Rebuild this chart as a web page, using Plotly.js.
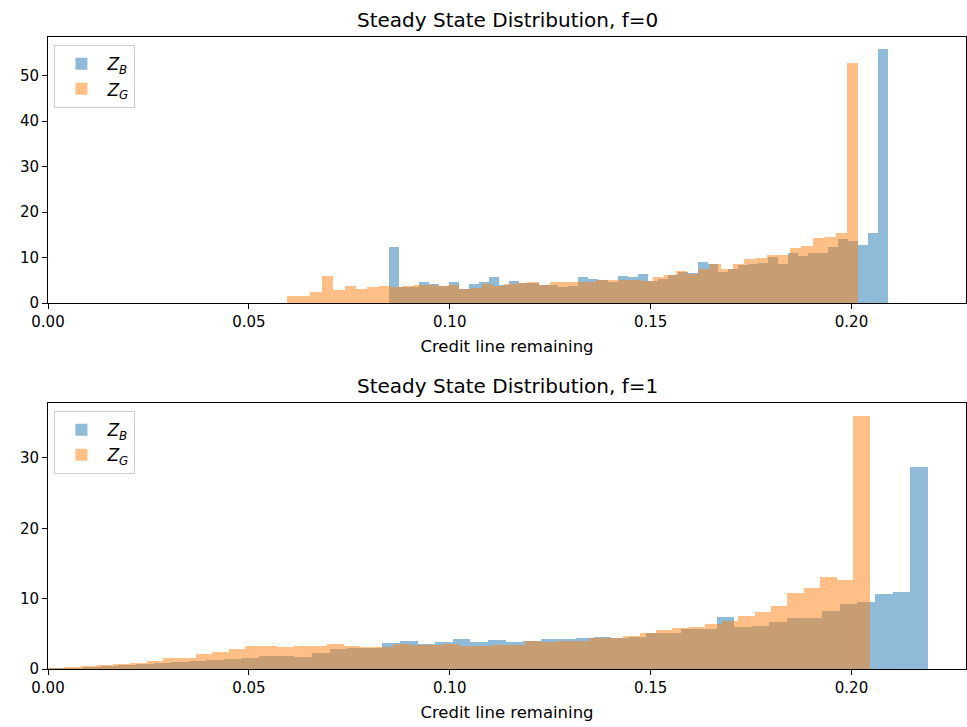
<!DOCTYPE html>
<html>
<head>
<meta charset="utf-8">
<script src="https://cdn.plot.ly/plotly-3.0.1.min.js"></script>
<style>html,body{margin:0;padding:0;background:#fff;}#chart{width:967px;height:727px;}</style>
</head>
<body>
<div id="chart"></div>
<script>
// ---- Data: histogram bin ranges (50 bins each) and bin heights ----
const nBins = 50;
// f = 0
const topB_range = [0.0848, 0.2091];
const topG_range = [0.0596, 0.2017];
const topB = [12.3,3.5,3.6,4.55,4.1,3.75,4.55,3.15,4.26,4.55,5.65,3.9,4.77,4.4,4.3,4.0,3.9,3.6,3.75,5.65,
              5.36,5.0,4.7,6.0,5.65,6.3,4.85,5.3,6.1,6.9,6.5,8.96,8.5,6.83,7.56,8.3,8.5,8.8,10.1,8.66,
              10.9,10.3,10.9,10.9,12.3,14.0,13.7,12.85,15.3,55.8];
const topG = [1.47,1.47,2.35,5.87,2.94,3.74,3.16,3.45,3.74,3.45,3.67,4.04,3.9,3.67,3.96,3.16,3.2,4.26,3.82,4.1,
              4.4,4.55,3.9,4.55,4.6,4.55,4.7,5.14,5.0,5.14,5.0,4.85,5.65,6.24,7.05,6.3,7.56,8.66,7.56,8.66,
              9.76,10.0,10.6,10.6,12.2,12.6,14.2,14.5,15.5,52.7];
// f = 1
const botB_range = [0.0, 0.2190];
const botG_range = [0.0, 0.2045];
const botB = [0.1,0.2,0.3,0.45,0.6,0.75,0.9,1.05,1.2,1.35,1.45,1.55,1.9,1.9,1.7,2.25,2.8,3.0,3.05,3.65,
              4.0,3.5,3.85,4.2,3.84,4.08,3.84,3.98,4.27,4.27,4.36,4.55,4.35,4.6,5.07,5.07,5.64,5.64,7.4,6.0,
              6.16,6.73,7.2,7.2,8.3,9.2,9.57,10.6,10.95,28.7];
const botG = [0.15,0.3,0.45,0.5,0.7,0.85,1.2,1.55,1.55,2.1,2.4,2.8,3.3,3.3,3.1,3.3,3.3,3.5,3.3,3.1,
              3.1,3.5,3.35,3.4,3.5,3.2,3.2,3.37,3.37,3.98,3.9,3.98,4.03,4.36,4.36,4.74,5.07,5.5,5.83,5.97,
              6.35,6.8,7.54,8.15,9.0,10.8,11.5,13.1,12.6,36.0];

const titles = ['Steady State Distribution, f=0', 'Steady State Distribution, f=1'];
const xLabel = 'Credit line remaining';
const nameB = '<i>Z<sub>B</sub></i>';
const nameG = '<i>Z<sub>G</sub></i>';

// ---- build bar traces from bin ranges ----
function bins(range, counts) {
  const w = (range[1] - range[0]) / nBins;
  return { x: counts.map((_, i) => range[0] + w * (i + 0.5)), w: w };
}
const blue = 'rgba(31,119,180,0.5)';
const orange = 'rgba(255,127,14,0.5)';
function trace(range, counts, name, color, xa, ya, leg) {
  const b = bins(range, counts);
  return { type: 'bar', x: b.x, y: counts, width: b.w, name: name, xaxis: xa, yaxis: ya,
           legend: leg, marker: { color: color, line: { width: 0 } }, hoverinfo: 'x+y' };
}
const data = [
  trace(topB_range, topB, nameB, blue, 'x', 'y', 'legend'),
  trace(topG_range, topG, nameG, orange, 'x', 'y', 'legend'),
  trace(botB_range, botB, nameB, blue, 'x2', 'y2', 'legend2'),
  trace(botG_range, botG, nameG, orange, 'x2', 'y2', 'legend2')
];

const font = 'DejaVu Sans, sans-serif';
const axBase = {
  showline: true, mirror: true, linecolor: '#000', linewidth: 1,
  ticks: 'outside', ticklen: 5, tickwidth: 1, tickcolor: '#000',
  showgrid: false, zeroline: false,
  tickfont: { family: font, size: 15, color: '#000' }
};
const topDomain = [0.5791, 1];
const botDomain = [0, 0.4209];
const legBase = {
  bgcolor: 'rgba(255,255,255,0.8)', bordercolor: '#cccccc', borderwidth: 1,
  font: { family: font, size: 17, color: '#000' }, xanchor: 'left', yanchor: 'top',
  traceorder: 'normal', itemwidth: 42
};
const xTitle = { text: xLabel, font: { family: font, size: 16.5, color: '#000' }, standoff: 10 };
const layout = {
  width: 967, height: 727,
  margin: { l: 48, r: 1, t: 37, b: 58, autoexpand: false },
  paper_bgcolor: '#fff', plot_bgcolor: '#fff',
  barmode: 'overlay', bargap: 0,
  showlegend: true,
  xaxis: Object.assign({}, axBase, { anchor: 'y', range: [0, 0.2285], dtick: 0.05, tick0: 0, tickformat: '.2f',
    title: xTitle }),
  yaxis: Object.assign({}, axBase, { anchor: 'x', domain: topDomain, range: [0, 58.5], dtick: 10 }),
  xaxis2: Object.assign({}, axBase, { anchor: 'y2', range: [0, 0.2285], dtick: 0.05, tick0: 0, tickformat: '.2f',
    title: xTitle }),
  yaxis2: Object.assign({}, axBase, { anchor: 'x2', domain: botDomain, range: [0, 37.8], dtick: 10 }),
  legend: Object.assign({}, legBase, { x: 0.007, y: 0.987 }),
  legend2: Object.assign({}, legBase, { x: 0.007, y: 0.408 }),
  annotations: [
    { text: titles[0], xref: 'paper', yref: 'paper', x: 0.5, y: topDomain[1], xanchor: 'center', yanchor: 'bottom',
      yshift: 3, showarrow: false, font: { family: font, size: 20, color: '#000' } },
    { text: titles[1], xref: 'paper', yref: 'paper', x: 0.5, y: botDomain[1], xanchor: 'center', yanchor: 'bottom',
      yshift: 3, showarrow: false, font: { family: font, size: 20, color: '#000' } }
  ]
};
Plotly.newPlot('chart', data, layout, { displayModeBar: false, staticPlot: true });
</script>
</body>
</html>
